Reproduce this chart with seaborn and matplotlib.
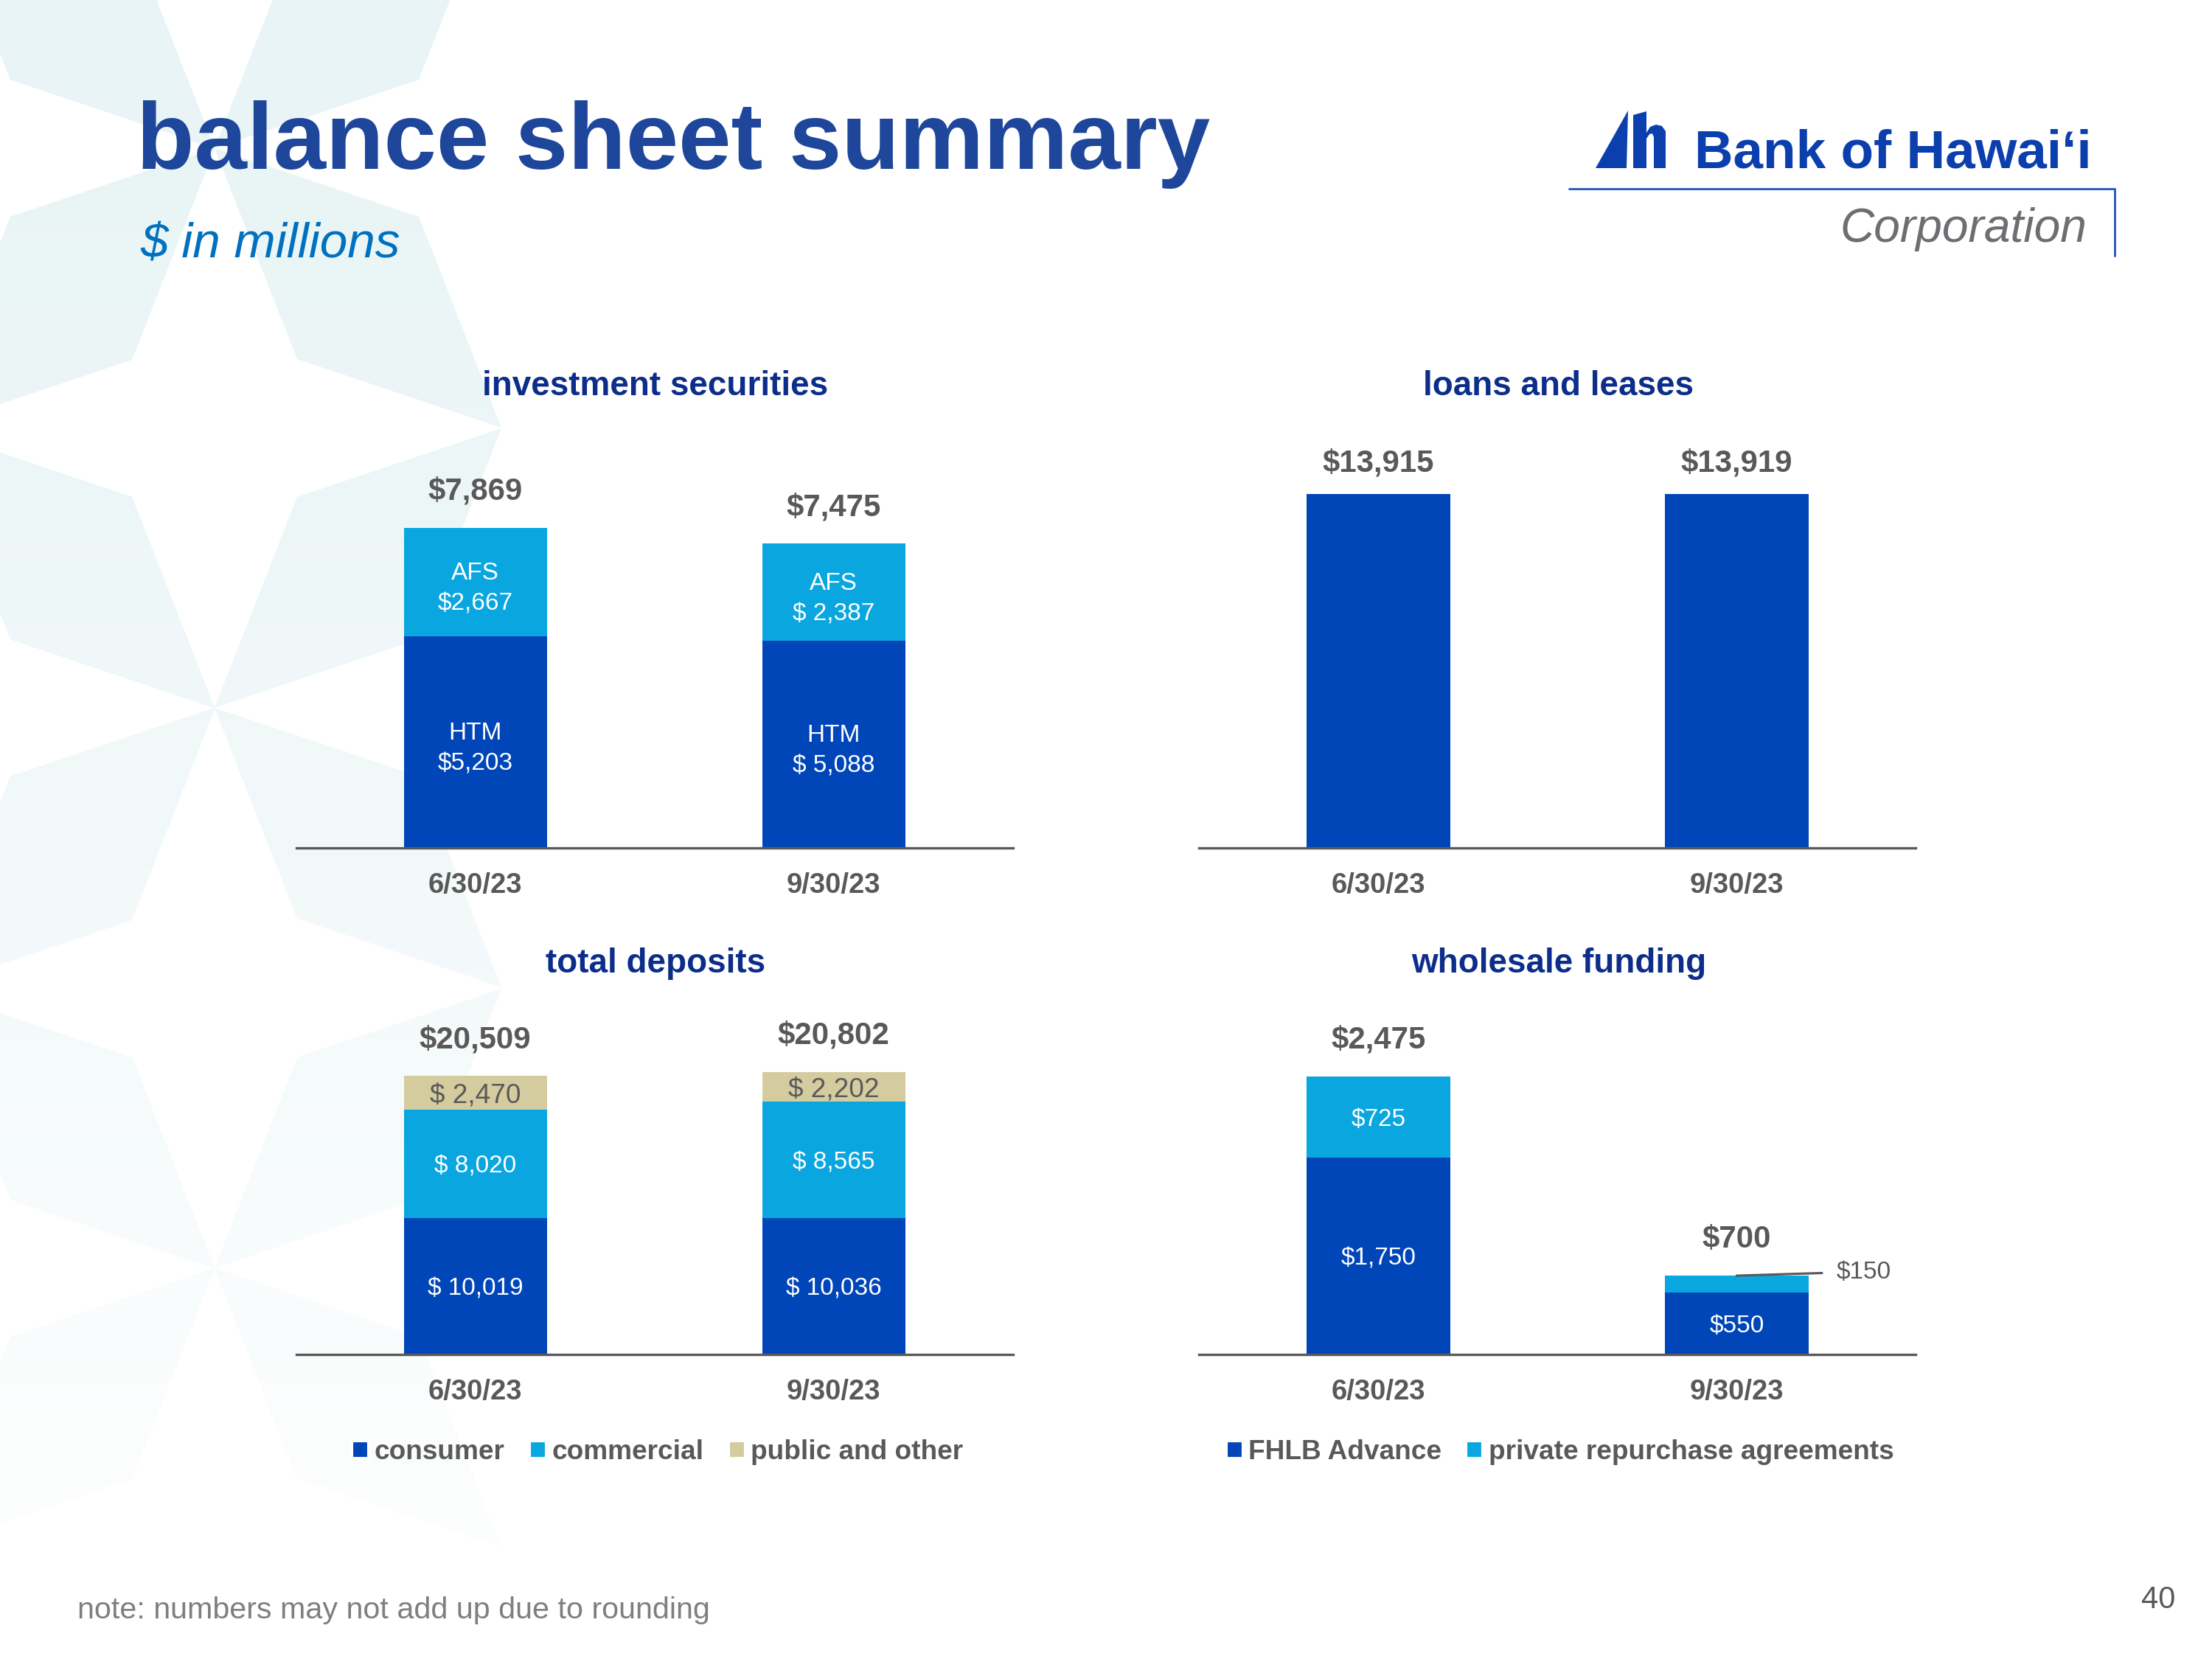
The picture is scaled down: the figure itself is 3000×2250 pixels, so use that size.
import numpy as np
import pandas as pd
import seaborn as sns
import matplotlib.pyplot as plt
from matplotlib import font_manager
from matplotlib.patches import Polygon, Patch

# ---- data ($ in millions) ----
dates = ["6/30/23", "9/30/23"]

htm = [5203, 5088]
afs = [2667, 2387]
inv_total = [7869, 7475]
htm_labels = ["HTM\n$5,203", "HTM\n$ 5,088"]
afs_labels = ["AFS\n$2,667", "AFS\n$ 2,387"]

loans = [13915, 13919]

consumer = [10019, 10036]
commercial = [8020, 8565]
public_other = [2470, 2202]
dep_total = [20509, 20802]

fhlb = [1750, 550]
repo = [725, 150]
wf_total = [2475, 700]

# ---- style ----
sns.set_theme(style="white")
installed = {f.name for f in font_manager.fontManager.ttflist}
SANS = "Liberation Sans" if "Liberation Sans" in installed else "DejaVu Sans"
plt.rcParams["font.family"] = [SANS, "DejaVu Sans"]

DARK = "#0046B8"
LIGHT = "#0AA6DF"
TAN = "#D4CB9F"
GRAY = "#595959"
NAVY = "#0C2D8A"
LOGO = "#0B3FAE"

fig = plt.figure(figsize=(10, 7.5), dpi=300)

# background layer, in pixel coordinates of the slide
bg = fig.add_axes([0, 0, 1, 1])
bg.axis("off")


def kites(px, py):
    # four teal petals meeting at one point of the star pattern
    out = []
    for sx in (1, -1):
        for sy in (1, -1):
            out.append([(px, py), (px + sx * 112, py + sy * 286),
                        (px + sx * 389, py + sy * 379), (px + sx * 277, py + sy * 93)])
    return out


for cx, cy in [(291, 201), (291, 960), (291, 1720), (-98, -178), (-98, 581), (-98, 1341)]:
    for k in kites(cx, cy):
        bg.add_patch(Polygon(k, closed=True, facecolor="#E8F4F5", edgecolor="none", zorder=0))

# fade the pattern out towards the bottom
fade = np.ones((256, 1, 4))
fade[:, 0, 3] = np.linspace(0, 1, 256) ** 1.2
bg.imshow(fade, extent=(0, 1200, 2250, 0), aspect="auto", zorder=0.5)
bg.set_xlim(0, 3000)
bg.set_ylim(2250, 0)

# titles
bg.text(185, 229, "balance sheet summary", fontsize=30.8, fontweight="bold",
        color="#1E469B", va="baseline", zorder=3)
bg.text(190, 350, "$ in millions", fontsize=16.2, style="italic",
        color="#0070C0", va="baseline", zorder=3)

# logo
bg.add_patch(Polygon([(2164, 228), (2206, 228), (2208, 150)], closed=True,
                     facecolor=LOGO, edgecolor="none", zorder=3))
bg.add_patch(Polygon([(2215, 156), (2233, 151), (2233, 228), (2215, 228)], closed=True,
                     facecolor=LOGO, edgecolor="none", zorder=3))
bg.add_patch(Polygon([(2233, 180), (2238, 172), (2246, 169), (2254, 171), (2259, 178),
                      (2259, 228), (2243, 228), (2243, 186), (2241, 181), (2237, 182),
                      (2233, 188)], closed=True, facecolor=LOGO, edgecolor="none", zorder=3))
bg.text(2298, 227, "Bank of Hawai\u02bbi", family=[SANS, "DejaVu Sans"], fontweight="bold",
        fontsize=17.5, color=LOGO, va="baseline", zorder=3)
bg.plot([2128, 2868], [256, 256], color="#2A5BB8", lw=0.7, zorder=3)
bg.plot([2868, 2868], [256, 347], color="#2A5BB8", lw=0.7, zorder=3)
bg.text(2830, 328, "Corporation", style="italic", fontsize=15.4, color="#6D6E71",
        ha="right", va="baseline", zorder=3)

# panel titles
for x, y, t in [(889, 524, "investment securities"), (2114, 524, "loans and leases"),
                (889, 1307, "total deposits"), (2114, 1307, "wholesale funding")]:
    bg.text(x, y, t, ha="center", va="center", fontsize=11, fontweight="bold",
            color=NAVY, zorder=3)

bg.text(105, 2195, "note: numbers may not add up due to rounding", fontsize=9.9,
        color="#7F7F7F", va="baseline", zorder=3)
bg.text(2950, 2181, "40", fontsize=10, color=GRAY, ha="right", va="baseline", zorder=3)


def stack(ax, layers, colors, ymax):
    # draw cumulative heights from the top layer down so they overlap as a stack
    cum = np.cumsum(np.array(layers), axis=0)
    for i in range(len(layers) - 1, -1, -1):
        df = pd.DataFrame({"date": dates, "value": cum[i]})
        sns.barplot(data=df, x="date", y="value", color=colors[i], width=0.4,
                    saturation=1, errorbar=None, linewidth=0, ax=ax)
    ax.set_facecolor("none")
    ax.set_xlim(-0.5, 1.5)
    ax.set_ylim(0, ymax)
    ax.set_xlabel("")
    ax.set_ylabel("")
    ax.set_yticks([])
    sns.despine(ax=ax, left=True)
    ax.spines["bottom"].set_color(GRAY)
    ax.spines["bottom"].set_linewidth(0.8)
    ax.tick_params(axis="x", length=0, pad=7.9, labelsize=9.2, labelcolor=GRAY)
    for lbl in ax.get_xticklabels():
        lbl.set_fontweight("bold")
    return cum


def seg_labels(ax, layers, cum, texts, colors=None, sizes=None):
    for i, layer in enumerate(layers):
        for j in range(len(dates)):
            if texts[i][j] is None:
                continue
            ax.text(j, cum[i][j] - layer[j] / 2, texts[i][j], ha="center",
                    va="center_baseline", linespacing=1.45,
                    color=colors[i] if colors else "white",
                    fontsize=sizes[i] if sizes else 8.0)


def totals(ax, tops, texts, off=9.2):
    for j, (top, t) in enumerate(zip(tops, texts)):
        ax.annotate(t, xy=(j, top), xytext=(0, off), textcoords="offset points",
                    ha="center", va="baseline", fontsize=10.1, fontweight="bold", color=GRAY)


L1, L2, W = 0.1339, 0.5421, 0.3240
B1, B2, H = 0.4889, 0.1837, 0.2453

# investment securities
ax = fig.add_axes([L1, B1, W, H])
cum = stack(ax, [htm, afs], [DARK, LIGHT], 10000)
seg_labels(ax, [htm, afs], cum, [htm_labels, afs_labels])
totals(ax, cum[-1], [f"${v:,}" for v in inv_total])

# loans and leases
ax = fig.add_axes([L2, B1, W, H])
cum = stack(ax, [loans], [DARK], 16000)
totals(ax, cum[-1], [f"${v:,}" for v in loans], off=7.4)

# total deposits
ax = fig.add_axes([L1, B2, W, H])
layers = [consumer, commercial, public_other]
cum = stack(ax, layers, [DARK, LIGHT, TAN], 30000)
seg_labels(ax, layers, cum, [[f"$ {v:,}" for v in s] for s in layers],
           colors=["white", "white", GRAY], sizes=[8.0, 8.0, 8.9])
totals(ax, cum[-1], [f"${v:,}" for v in dep_total])

# wholesale funding
ax = fig.add_axes([L2, B2, W, H])
layers = [fhlb, repo]
cum = stack(ax, layers, [DARK, LIGHT], 3625)
seg_labels(ax, layers, cum, [[f"${v:,}" for v in fhlb], [f"${repo[0]:,}", None]])
totals(ax, cum[-1], [f"${v:,}" for v in wf_total])
ax.annotate(f"${repo[1]:,}", xy=(1, cum[-1][1]), xytext=(32.4, 1.0), textcoords="offset points",
            ha="left", va="center", fontsize=8.0, color=GRAY,
            arrowprops=dict(arrowstyle="-", color=GRAY, lw=0.75, relpos=(0, 0.5),
                            shrinkA=2.5, shrinkB=0))

# legends
leg_kw = dict(loc="center", frameon=False, handlelength=0.62, handleheight=0.62,
              handletextpad=0.2, columnspacing=0.9, labelcolor=GRAY,
              prop=dict(weight="bold", size=8.9), borderaxespad=0)
fig.legend(handles=[Patch(facecolor=DARK, label="consumer"),
                    Patch(facecolor=LIGHT, label="commercial"),
                    Patch(facecolor=TAN, label="public and other")],
           ncol=3, bbox_to_anchor=(0.2972, 0.1245), **leg_kw)
fig.legend(handles=[Patch(facecolor=DARK, label="FHLB Advance"),
                    Patch(facecolor=LIGHT, label="private repurchase agreements")],
           ncol=2, bbox_to_anchor=(0.7052, 0.1245), **leg_kw)

fig.savefig("out.png", dpi=300)
